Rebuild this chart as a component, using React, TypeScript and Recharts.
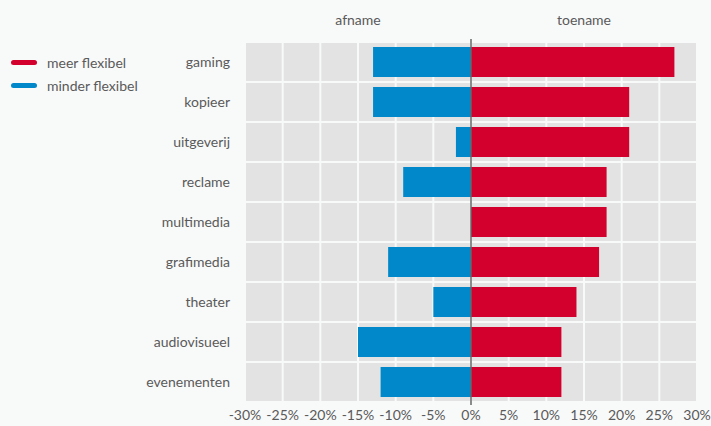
import React from 'react';
import { BarChart, Bar, XAxis, YAxis, CartesianGrid, ReferenceLine } from 'recharts';

// Sectors and the share of respondents expecting more / less flexible work
const sectors = [
    'gaming',
    'kopieer',
    'uitgeverij',
    'reclame',
    'multimedia',
    'grafimedia',
    'theater',
    'audiovisueel',
    'evenementen',
];
const meerFlexibel = [27, 21, 21, 18, 18, 17, 14, 12, 12];
const minderFlexibel = [-13, -13, -2, -9, 0, -11, -5, -15, -12];
const xTicks = [-30, -25, -20, -15, -10, -5, 0, 5, 10, 15, 20, 25, 30];
const sideLabels = ['afname', 'toename'];

const RED = '#d3002e';
const BLUE = '#0088cb';
const TEXT = '#5a5a5a';
const BG = '#f8f9f9';
const FONT = 'Lato, "Open Sans", sans-serif';

const data = sectors.map((name, i) => ({
    name,
    meer: meerFlexibel[i],
    minder: minderFlexibel[i],
}));

const legendItems = [
    { label: 'meer flexibel', color: RED },
    { label: 'minder flexibel', color: BLUE },
];

const LegendBox = () => (
    <div style={{ position: 'absolute', left: 11, top: 51, fontSize: 14, color: TEXT, zIndex: 2 }}>
        {legendItems.map((item) => (
            <div key={item.label} style={{ display: 'flex', alignItems: 'center', height: 23 }}>
                <span
                    style={{
                        display: 'inline-block',
                        width: 26,
                        height: 5,
                        borderRadius: 3,
                        background: item.color,
                        marginRight: 10,
                    }}
                />
                {item.label}
            </div>
        ))}
    </div>
);

// Zero line drawn slightly past the plot edges
const ZeroLine = (props: any) => {
    const { x1, y1, x2, y2 } = props;
    return <line x1={x1} x2={x2} y1={Math.min(y1, y2) - 3} y2={Math.max(y1, y2) + 3} stroke="#666" strokeWidth={1.5} />;
};

export default function App() {
    // white separators between the category rows
    const rowBounds = ({ offset }: any) =>
        sectors.map((_, i) => offset.top + (i * offset.height) / sectors.length).concat(offset.top + offset.height);

    return (
        <div
            style={{
                position: 'absolute',
                left: 0,
                top: 0,
                width: 711,
                height: 426,
                background: BG,
                fontFamily: FONT,
            }}
        >
            <div style={{ position: 'absolute', top: 11, left: 245, width: 452, display: 'flex', fontSize: 14, color: TEXT }}>
                {sideLabels.map((s) => (
                    <div key={s} style={{ flex: 1, textAlign: 'center' }}>{s}</div>
                ))}
            </div>
            <LegendBox />
            <BarChart
                width={711}
                height={426}
                data={data}
                layout="vertical"
                stackOffset="sign"
                barCategoryGap={5}
                margin={{ top: 42, right: 14, bottom: 0, left: 0 }}
            >
                <CartesianGrid
                    fill="#e3e3e3"
                    fillOpacity={1}
                    stroke={BG}
                    strokeWidth={2}
                    horizontalCoordinatesGenerator={rowBounds}
                />
                <XAxis
                    type="number"
                    domain={[-30, 30]}
                    ticks={xTicks}
                    tickFormatter={(v) => `${v}%`}
                    tick={{ fontSize: 14, fill: TEXT, fontFamily: FONT }}
                    tickLine={false}
                    axisLine={false}
                    interval={0}
                    height={24}
                />
                <YAxis
                    type="category"
                    dataKey="name"
                    width={245}
                    tick={{ fontSize: 14, fill: TEXT, fontFamily: FONT }}
                    tickLine={false}
                    axisLine={false}
                    tickSize={0}
                    tickMargin={15}
                />
                <Bar dataKey="meer" name="meer flexibel" stackId="s" fill={RED} isAnimationActive={false} />
                <Bar dataKey="minder" name="minder flexibel" stackId="s" fill={BLUE} isAnimationActive={false} />
                <ReferenceLine x={0} shape={<ZeroLine />} />
            </BarChart>
        </div>
    );
}
